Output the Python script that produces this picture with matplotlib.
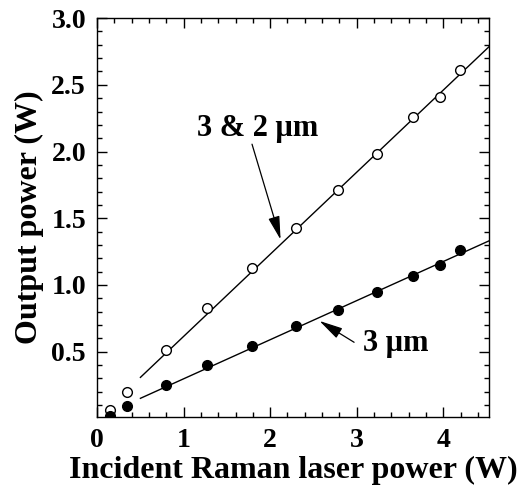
import matplotlib
matplotlib.use('Agg')
import matplotlib.pyplot as plt
from matplotlib.ticker import MultipleLocator

# incident Raman laser power (W)
power = [0.15, 0.35, 0.79, 1.27, 1.79, 2.30, 2.78, 3.23, 3.65, 3.96, 4.19]
# output power, 3 & 2 um (open circles)
out_32 = [0.06, 0.195, 0.51, 0.83, 1.13, 1.43, 1.715, 1.985, 2.26, 2.41, 2.61]
# output power, 3 um only (filled circles)
out_3 = [0.02, 0.09, 0.25, 0.40, 0.545, 0.69, 0.815, 0.945, 1.07, 1.15, 1.26]

# linear fits
fit_x = [0.5, 4.6]
fit_32 = [0.307, 2.829]
fit_3 = [0.150, 1.351]

plt.rcParams['font.family'] = 'Liberation Serif'
plt.rcParams['font.weight'] = 'bold'

fig = plt.figure(figsize=(5.31, 4.90), dpi=100)
ax = fig.add_axes([0.183, 0.149, 0.738, 0.814])

ax.plot(fit_x, fit_32, color='black', lw=1.0)
ax.plot(fit_x, fit_3, color='black', lw=1.0)
ax.plot(power, out_32, 'o', ms=7, mfc='white', mec='black', mew=1.0)
ax.plot(power, out_3, 'o', ms=7, mfc='black', mec='black', mew=1.0)

ax.set_xlim(0, 4.53)
ax.set_ylim(0.01, 3.0)
ax.xaxis.set_major_locator(MultipleLocator(1))
ax.xaxis.set_minor_locator(MultipleLocator(0.2))
ax.set_yticks([0.5, 1.0, 1.5, 2.0, 2.5, 3.0])
ax.yaxis.set_minor_locator(MultipleLocator(0.1))
ax.tick_params(which='both', direction='in', top=True, right=True, width=1.0)
ax.tick_params(which='major', length=7, labelsize=20, pad=8)
ax.tick_params(which='minor', length=3.5)
for s in ax.spines.values():
    s.set_linewidth(1.0)

ax.set_xlabel('Incident Raman laser power (W)', fontsize=23, fontweight='bold', labelpad=2)
ax.set_ylabel('Output power (W)', fontsize=23, fontweight='bold', labelpad=5)

# narrow, long arrowheads
arrow = dict(arrowstyle='-|>,head_length=0.9,head_width=0.22', color='black',
             lw=0.9, mutation_scale=16, shrinkA=0, shrinkB=0)
ax.text(1.85, 2.17, '3 & 2 \u03bcm', fontsize=22, fontweight='bold', ha='center', va='center')
ax.annotate('', xy=(2.12, 1.34), xytext=(1.79, 2.055), arrowprops=arrow)
ax.text(3.45, 0.56, '3 \u03bcm', fontsize=22, fontweight='bold', ha='center', va='center')
ax.annotate('', xy=(2.57, 0.73), xytext=(2.97, 0.57), arrowprops=arrow)

fig.savefig('out.png', dpi=100)
